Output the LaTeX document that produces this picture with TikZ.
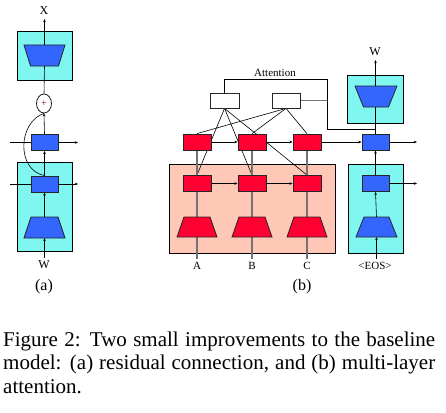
\documentclass[tikz,border=0pt]{standalone}
\usepackage{fontspec}
\setmainfont{Liberation Serif}
\usetikzlibrary{shapes.geometric,arrows.meta}
\definecolor{cyanbox}{RGB}{127,247,240}
\definecolor{bluec}{RGB}{51,102,255}
\definecolor{redc}{RGB}{255,0,51}
\definecolor{pinkc}{RGB}{255,200,182}
\definecolor{grayl}{RGB}{115,115,115}
\definecolor{plusc}{RGB}{150,0,40}
\pgfdeclarelayer{boxes}
\pgfdeclarelayer{bg}
\pgfsetlayers{boxes,bg,main}
% #1 name, #2 cx, #3 cy, #4 top width, #5 bottom width, #6 height, #7 fill
\newcommand{\mytrap}[7]{%
  \filldraw[trapline, fill=#7] (#2-#4/2,#3-#6/2) -- (#2+#4/2,#3-#6/2)
    -- (#2+#5/2,#3+#6/2) -- (#2-#5/2,#3+#6/2) -- cycle;
  \coordinate (#1n) at (#2,#3-#6/2);
  \coordinate (#1s) at (#2,#3+#6/2);}
\begin{document}
\begin{tikzpicture}[x=1pt,y=-1pt,
  >={Stealth[length=3.2pt,width=2.6pt]},
  box/.style={draw=black, line width=0.9pt, fill=cyanbox, inner sep=0, rectangle},
  pbox/.style={box, fill=pinkc},
  brect/.style={draw=black!85, line width=0.8pt, fill=bluec, rectangle,
    minimum width=27pt, minimum height=16pt, inner sep=0},
  rrect/.style={brect, fill=redc, minimum width=28pt},
  wrect/.style={brect, fill=white, minimum width=29pt, minimum height=15pt},
  trapline/.style={draw=black!85, line width=0.8pt},
  conn/.style={line width=0.6pt, black},
  gconn/.style={line width=1.3pt, grayl},
  lab/.style={font=\fontsize{11}{12}\selectfont, inner sep=0},
  sub/.style={font=\fontsize{16}{18}\selectfont, inner sep=0},
  captext/.style={font=\fontsize{21}{24}\selectfont, inner sep=0, anchor=base west},
]
\useasboundingbox (0,0) rectangle (446,412);

% ---------------- (a) ----------------
\begin{pgfonlayer}{boxes}
\node[box, minimum width=55pt, minimum height=49pt] (aTopBox) at (44.5,55.5) {};
\node[box, minimum width=55pt, minimum height=89pt] (aBotBox) at (44.5,206.5) {};
\end{pgfonlayer}
\mytrap{aTopTrap}{44.5}{55.5}{41}{28}{21}{bluec}
\node[draw, line width=0.7pt, fill=white, ellipse, minimum width=15pt, minimum height=19pt, inner sep=0] (plus) at (44,103.5) {\fontsize{10}{10}\selectfont\textcolor{plusc}{+}};
\node[brect] (aR1) at (44.5,142.5) {};
\node[brect] (aR2) at (44.5,184) {};
\mytrap{aBotTrap}{44.5}{227.5}{27}{41}{21}{bluec}
\node[lab, font=\fontsize{12}{12}\selectfont] (Xlab) at (44,11) {X};
\node[lab, font=\fontsize{12}{12}\selectfont] (Wa) at (44,265) {W};
\node[sub] (alab) at (44,287) {(a)};
\coordinate (Xtip) at (44.5,19);
\coordinate (aIn1) at (10,142.5);
\coordinate (aOut1) at (78,142.5);
\coordinate (aIn2) at (10,184);
\coordinate (aOut2) at (78,184);
\coordinate (Wa0) at (44.5,258);

\begin{pgfonlayer}{bg}
\draw[conn,->] (aTopTrapn) -- (Xtip);
\draw[conn] (plus.north) -- (aTopTraps);
\draw[conn,->] (aR1.north) -- (plus.south);
\draw[conn,->] (aR2.north) -- (aR1.south);
\draw[conn] (plus.south) .. controls (18,122) and (16,170) .. (aR2.north);
\draw[conn,->] (aIn1) -- (aOut1);
\draw[conn,->] (aIn2) -- (aOut2);
\draw[conn,->] (aBotTrapn) -- (aR2.south);
\draw[conn,->] (Wa0) -- (aBotTraps);
\end{pgfonlayer}

% ---------------- (b) ----------------
\begin{pgfonlayer}{boxes}
\node[pbox, minimum width=166pt, minimum height=89pt] (pink) at (252,208.5) {};
\node[box, minimum width=56pt, minimum height=48pt] (bTopBox) at (375,99) {};
\node[box, minimum width=55pt, minimum height=89pt] (bBotBox) at (375.5,208.5) {};
\end{pgfonlayer}
\node[lab] (attlab) at (275,73) {Attention};
\node[wrect] (wL) at (224.5,100.5) {};
\node[wrect, minimum width=28pt] (wR) at (286,100.5) {};
\node[rrect] (uR1) at (197,142) {};
\node[rrect] (uR2) at (252,142) {};
\node[rrect] (uR3) at (307,142) {};
\node[rrect] (lR1) at (197,183.5) {};
\node[rrect] (lR2) at (252,183.5) {};
\node[rrect] (lR3) at (307,183.5) {};
\mytrap{rT1}{197}{227}{26}{40}{20}{redc}
\mytrap{rT2}{252}{227}{26}{40}{20}{redc}
\mytrap{rT3}{307}{227}{26}{40}{20}{redc}
\mytrap{bTopTrap}{376}{96.5}{42}{25}{21}{bluec}
\node[brect] (bB1) at (375.5,142) {};
\node[brect] (bB2) at (375.5,183.5) {};
\mytrap{bBotTrap}{376.5}{227}{25}{41}{20}{bluec}
\node[lab] (Alab) at (197,266) {A};
\node[lab] (Blab) at (252,266) {B};
\node[lab] (Clab) at (307,266) {C};
\node[lab] (EOS) at (375,266) {<EOS>};
\node[lab, font=\fontsize{12}{12}\selectfont] (Wb) at (375,52) {W};
\node[sub] (blab) at (302,287) {(b)};
\coordinate (Wtip) at (375.5,60);
\coordinate (attTop) at (327,79);
\coordinate (attJ) at (327,129);
\coordinate (bOut1) at (417,142);
\coordinate (bOut2) at (417,183.5);
\coordinate (A0) at (197,259);
\coordinate (B0) at (252,259);
\coordinate (C0) at (307,259);
\coordinate (E0) at (376.5,259);

\begin{pgfonlayer}{bg}
% attention path
\draw[conn] (wL.north) |- (attTop) -- (attJ) -- (bB1.north |- attJ);
\draw[gconn] (wR.east) -- (attJ |- wR.east);
\draw[conn] (wL.south) -- (lR1.north);
\draw[conn] (wL.south) -- (lR2.north);
\draw[conn] (wL.south) -- (lR3.north);
\draw[conn] (wR.south) -- (uR1.north);
\draw[conn] (wR.south) -- (uR2.north);
\draw[conn] (wR.south) -- (uR3.north);
% horizontal recurrences
\draw[conn,->] (uR1.east) -- (uR2.west);
\draw[conn,->] (uR2.east) -- (uR3.west);
\draw[conn,->] (uR3.east) -- (bB1.west);
\draw[conn,->] (bB1.east) -- (bOut1);
\draw[conn,->] (lR1.east) -- (lR2.west);
\draw[conn,->] (lR2.east) -- (lR3.west);
\draw[conn,->] (bB2.east) -- (bOut2);
% vertical red columns
\draw[gconn] (lR1.north) -- (uR1.south);
\draw[gconn] (lR2.north) -- (uR2.south);
\draw[gconn] (lR3.north) -- (uR3.south);
\draw[gconn] (rT1n) -- (lR1.south);
\draw[gconn] (rT2n) -- (lR2.south);
\draw[gconn] (rT3n) -- (lR3.south);
\draw[gconn] (A0) -- (rT1s);
\draw[gconn] (B0) -- (rT2s);
\draw[gconn] (C0) -- (rT3s);
% blue column
\draw[conn,->] (bB1.north) -- (Wtip);
\draw[conn,->] (bB2.north) -- (bB1.south);
\draw[conn,->] (bBotTrapn) -- (bB2.south);
\draw[conn,->] (E0) -- (bBotTraps);
\end{pgfonlayer}

% ---------------- caption ----------------
\node[captext] (cap1) at (3,346) {\makebox[432pt][s]{Figure 2: Two small improvements to the baseline}};
\node[captext] (cap2) at (3,369.5) {\makebox[432pt][s]{model: (a) residual connection, and (b) multi-layer}};
\node[captext] (cap3) at (3,393) {attention.};
\end{tikzpicture}
\end{document}
